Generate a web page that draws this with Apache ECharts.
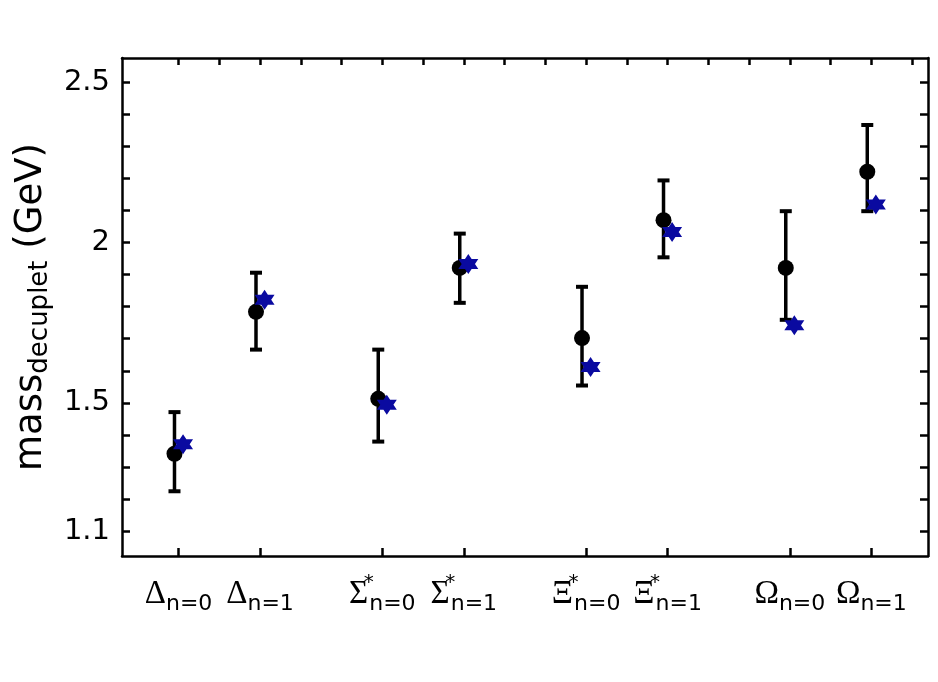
<!DOCTYPE html>
<html>
<head>
<meta charset="utf-8">
<script src="https://cdn.jsdelivr.net/npm/echarts@6/dist/echarts.min.js"></script>
<style>
  html, body { margin: 0; padding: 0; background: #fff; }
  #chart { width: 938px; height: 682px; }
</style>
</head>
<body>
<div id="chart"></div>
<script>
// baryon decuplet states, n = radial excitation
const baryons = ['Δ', 'Δ', 'Σ', 'Σ', 'Ξ', 'Ξ', 'Ω', 'Ω']
const levels = [0, 1, 0, 1, 0, 1, 0, 1]
const starred = [false, false, true, true, true, true, false, false]
const xPos = [0, 1, 2.5, 3.5, 5, 6, 7.5, 8.5]

// black points with error bars (GeV)
const massMean = [1.341, 1.784, 1.5125, 1.921, 1.702, 2.070, 1.921, 2.221]
const massLow = [1.224, 1.666, 1.379, 1.812, 1.554, 1.954, 1.759, 2.098]
const massHigh = [1.471, 1.906, 1.666, 2.028, 1.862, 2.194, 2.098, 2.367]

// blue stars (GeV)
const starMass = [1.371, 1.822, 1.494, 1.933, 1.612, 2.033, 1.742, 2.119]

// ticks
const yTicks = [1.1, 1.2, 1.3, 1.4, 1.5, 1.6, 1.7, 1.8, 1.9, 2.0, 2.1, 2.2, 2.3, 2.4, 2.5]
const yLabels = [1.1, 1.5, 2, 2.5]
const topTicks = [0, 0.5, 1, 1.5, 2, 2.5, 3, 3.5, 4, 4.5, 5, 5.5, 6, 6.5, 7, 7.5, 8, 8.5, 9]

const xMin = -0.694, xMax = 9.195
const yMin = 1.022, yMax = 2.576
const dotShift = -0.05, starShift = 0.055

const starPath = 'path://M0,-10 L8.66,5 L-8.66,5 Z M0,10 L-8.66,-5 L8.66,-5 Z'

const labelFor = {}
xPos.forEach((x, i) => {
  const sup = starred[i] ? '{sup|*}' : ''
  labelFor[x] = '{g|' + baryons[i] + '}' + sup + '{sub|n=' + levels[i] + '}'
})

const myChart = echarts.init(document.getElementById('chart'))

const axisLineStyle = { color: '#000', width: 2.5 }
const tickStyle = { color: '#000', width: 2.5 }

myChart.setOption({
  animation: false,
  backgroundColor: '#fff',
  grid: { left: 122, right: 10, top: 58, bottom: 126, containLabel: false },
  xAxis: [
    {
      type: 'value', position: 'bottom', min: xMin, max: xMax,
      splitLine: { show: false },
      axisLine: { show: true, onZero: false, lineStyle: axisLineStyle },
      axisTick: { show: true, inside: true, length: 8, customValues: xPos, lineStyle: tickStyle },
      axisLabel: {
        customValues: xPos, margin: 17,
        formatter: v => labelFor[v] || '',
        rich: {
          g: { fontFamily: 'Liberation Serif', fontSize: 33, color: '#000', lineHeight: 42, verticalAlign: 'middle' },
          sub: { fontFamily: 'DejaVu Sans', fontSize: 22, color: '#000', lineHeight: 22, verticalAlign: 'bottom' },
          sup: { fontFamily: 'DejaVu Sans', fontSize: 20, color: '#000', lineHeight: 20, verticalAlign: 'top', width: 1, align: 'left' }
        }
      }
    },
    {
      type: 'value', position: 'top', min: xMin, max: xMax,
      splitLine: { show: false },
      axisLine: { show: true, onZero: false, lineStyle: axisLineStyle },
      axisTick: { show: true, inside: true, length: 7, customValues: topTicks, lineStyle: tickStyle },
      axisLabel: { show: false }
    }
  ],
  yAxis: [
    {
      type: 'value', position: 'left', min: yMin, max: yMax,
      splitLine: { show: false },
      axisLine: { show: true, onZero: false, lineStyle: axisLineStyle },
      axisTick: { show: true, inside: true, length: 8, customValues: yTicks, lineStyle: tickStyle },
      axisLabel: {
        customValues: yLabels, margin: 12,
        fontFamily: 'DejaVu Sans', fontSize: 29, color: '#000',
        formatter: v => String(v)
      },
      name: '{m|mass}{s|decuplet}{m| (GeV)}',
      nameLocation: 'middle',
      nameGap: 58,
      nameRotate: 90,
      nameTextStyle: {
        rich: {
          m: { fontFamily: 'DejaVu Sans', fontSize: 37, color: '#000', lineHeight: 44, verticalAlign: 'middle' },
          s: { fontFamily: 'DejaVu Sans', fontSize: 26, color: '#000', lineHeight: 26, verticalAlign: 'bottom' }
        }
      }
    },
    {
      type: 'value', position: 'right', min: yMin, max: yMax,
      splitLine: { show: false },
      axisLine: { show: true, onZero: false, lineStyle: axisLineStyle },
      axisTick: { show: true, inside: true, length: 8, customValues: yTicks, lineStyle: tickStyle },
      axisLabel: { show: false }
    }
  ],
  series: [
    {
      type: 'custom',
      xAxisIndex: 0, yAxisIndex: 0,
      data: xPos.map((x, i) => [x + dotShift, massLow[i], massHigh[i]]),
      encode: { x: 0, y: [1, 2] },
      renderItem: function (params, api) {
        const x = api.value(0)
        const top = api.coord([x, api.value(2)])
        const bot = api.coord([x, api.value(1)])
        const hw = 6
        const st = { stroke: '#000', lineWidth: 3.5 }
        return {
          type: 'group',
          children: [
            { type: 'line', shape: { x1: top[0], y1: top[1], x2: bot[0], y2: bot[1] }, style: st },
            { type: 'line', shape: { x1: top[0] - hw, y1: top[1], x2: top[0] + hw, y2: top[1] }, style: { stroke: '#000', lineWidth: 4 } },
            { type: 'line', shape: { x1: bot[0] - hw, y1: bot[1], x2: bot[0] + hw, y2: bot[1] }, style: { stroke: '#000', lineWidth: 4 } }
          ]
        }
      },
      z: 2
    },
    {
      type: 'scatter',
      xAxisIndex: 0, yAxisIndex: 0,
      data: xPos.map((x, i) => [x + dotShift, massMean[i]]),
      symbol: 'circle', symbolSize: 16,
      itemStyle: { color: '#000', opacity: 1 },
      z: 3
    },
    {
      type: 'scatter',
      xAxisIndex: 0, yAxisIndex: 0,
      data: xPos.map((x, i) => [x + starShift, starMass[i]]),
      symbol: starPath, symbolSize: 20,
      itemStyle: { color: '#0a0aa0', opacity: 1 },
      z: 4
    }
  ]
})
</script>
</body>
</html>
